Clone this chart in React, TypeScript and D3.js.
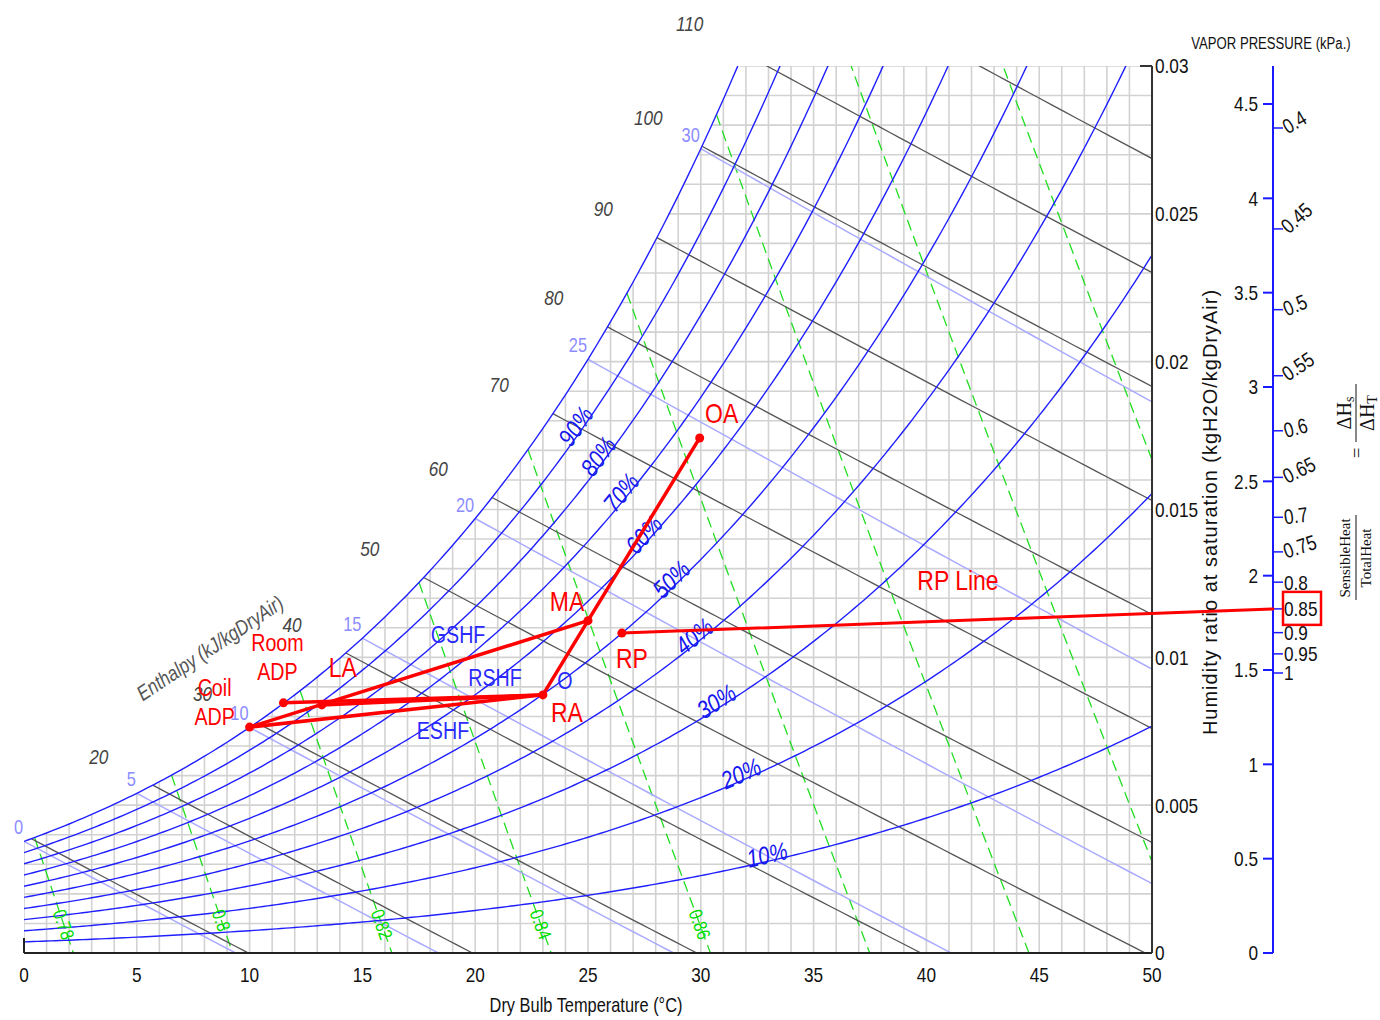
import React from 'react';
import * as d3 from 'd3';

// ---- chart values ----
const rhLevels = [0.1, 0.2, 0.3, 0.4, 0.5, 0.6, 0.7, 0.8, 0.9, 1.0];
const rhLabelLevels = [0.1, 0.2, 0.3, 0.4, 0.5, 0.6, 0.7, 0.8, 0.9];
const enthalpyLevels = [10, 20, 30, 40, 50, 60, 70, 80, 90, 100, 110, 120];
const enthalpyLabelLevels = [20, 30, 40, 50, 60, 70, 80, 90, 100, 110];
const wetBulbLevels = [0, 5, 10, 15, 20, 25, 30];
const volumeLevels = [0.78, 0.8, 0.82, 0.84, 0.86, 0.88, 0.9, 0.92, 0.94];
const volumeLabelLevels = [0.78, 0.8, 0.82, 0.84, 0.86];
const tempTicks = [0, 5, 10, 15, 20, 25, 30, 35, 40, 45, 50];
const humidityTicks = [0, 0.005, 0.01, 0.015, 0.02, 0.025, 0.03];
const vaporTicks = [0, 0.5, 1, 1.5, 2, 2.5, 3, 3.5, 4, 4.5];
const shfTicks = [0.4, 0.45, 0.5, 0.55, 0.6, 0.65, 0.7, 0.75, 0.8, 0.85, 0.9, 0.95, 1];

// process states
const stateNames = ['Coil ADP', 'Room ADP', 'LA', 'RA', 'MA', 'OA', 'RP'];
const stateT = [10.0, 11.5, 13.2, 23.0, 25.0, 29.95, 26.5];
const stateW = [0.00764, 0.00846, 0.00839, 0.00873, 0.01124, 0.01742, 0.01082];
const processFrom = ['Coil ADP', 'Coil ADP', 'Room ADP', 'LA', 'RA', 'MA'];
const processTo = ['MA', 'RA', 'RA', 'RA', 'MA', 'OA'];
const rpShf = 0.85;

// ---- psychrometrics ----
const P = 101.325;
const pws = (t: number) => {
  const T = t + 273.15;
  const ln = -5.8002206e3 / T + 1.3914993 - 4.8640239e-2 * T + 4.1764768e-5 * T * T
    - 1.4452093e-8 * T * T * T + 6.5459673 * Math.log(T);
  return Math.exp(ln) / 1000;
};
const wFromPw = (pw: number) => 0.621945 * pw / (P - pw);
const wSat = (t: number) => wFromPw(pws(t));
const wRH = (t: number, rh: number) => wFromPw(rh * pws(t));
const enthalpy = (t: number, w: number) => 1.006 * t + w * (2501 + 1.86 * t);
const wEnth = (t: number, h: number) => (h - 1.006 * t) / (2501 + 1.86 * t);
const wWetBulb = (t: number, twb: number) =>
  ((2501 - 2.326 * twb) * wSat(twb) - 1.006 * (t - twb)) / (2501 + 1.86 * t - 4.186 * twb);
const wVol = (t: number, v: number) => (v * P / (0.287042 * (t + 273.15)) - 1) / 1.6078;

function root(f: (t: number) => number, lo: number, hi: number) {
  let flo = f(lo);
  for (let i = 0; i < 60; i++) {
    const mid = (lo + hi) / 2;
    const fm = f(mid);
    if ((fm > 0) === (flo > 0)) { lo = mid; flo = fm; } else hi = mid;
  }
  return (lo + hi) / 2;
}

function sample(t0: number, t1: number, step: number, f: (t: number) => number) {
  const pts: [number, number][] = [];
  for (let t = t0; t < t1; t += step) pts.push([t, f(t)]);
  pts.push([t1, f(t1)]);
  return pts;
}

const SANS = '"Liberation Sans", Arial, sans-serif';

// narrow text: Liberation Sans squeezed horizontally (Arial Narrow look)
function NText(props: {
  x: number; y: number; r?: number; a?: string; size: number; fill?: string;
  italic?: boolean; dy?: string | number; sx?: number; children: any;
}) {
  const { x, y, r = 0, a = 'start', size, fill = '#111', italic = false, dy, sx = 0.82 } = props;
  return (
    <text transform={`translate(${x},${y}) rotate(${r}) scale(${sx},1)`} textAnchor={a as any}
      dy={dy} fontSize={size} fill={fill} fontStyle={italic ? 'italic' : undefined}
      fontFamily={SANS}>{props.children}</text>
  );
}

export default function App() {
  const width = 1380;
  const height = 1020;
  const x = d3.scaleLinear().domain([0, 50]).range([24, 1152]);
  const y = d3.scaleLinear().domain([0, 0.03]).range([953, 66]);
  const vp = d3.scaleLinear().domain([0, 4.5]).range([953, 104]);
  // SHF scale is linear in (1 - shf) / shf
  const shfScale = d3.scaleLinear().domain([0, 1.5]).range([673, 128]);
  const shfY = (s: number) => shfScale((1 - s) / s);
  const vpAxisX = 1273;

  const line = d3.line<[number, number]>().x(d => x(d[0])).y(d => y(d[1]));

  // region under saturation curve for the grid
  const satRegion: [number, number][] = [[0, 0],
    ...sample(0, 50, 0.25, t => Math.min(wSat(t), 0.03)), [50, 0]];

  const rhCurves = rhLevels.map(rh => ({ rh, pts: sample(0, 50, 0.2, t => wRH(t, rh)) }));

  const enthLines = enthalpyLevels.map(h => {
    const t0 = root(t => enthalpy(t, wSat(t)) - h, 0, 60);
    const t1 = Math.min(50, h / 1.006);
    return { h, t0, pts: sample(t0, t1, 0.5, t => wEnth(t, h)) };
  });

  const wbLines = wetBulbLevels.map(twb => {
    const t1 = Math.min(50, twb + (2501 - 2.326 * twb) * wSat(twb) / 1.006);
    return { twb, pts: sample(twb, t1, 0.5, t => wWetBulb(t, twb)) };
  });

  const volLines = volumeLevels.map(v => {
    const t0 = root(t => wVol(t, v) - wSat(t), 0, 60);
    const t1 = Math.min(50, v * P / 0.287042 - 273.15);
    return { v, pts: sample(t0, t1, 0.5, t => wVol(t, v)) };
  });

  const rhLabelT = [33.0, 31.9, 30.85, 29.9, 28.9, 27.7, 26.7, 25.7, 24.7];

  const st = (name: string) => {
    const i = stateNames.indexOf(name);
    return [x(stateT[i]), y(stateW[i])];
  };

  const stateLabels: { name: string; lines: string[]; dx: number; dy: number; size: number }[] = [
    { name: 'Coil ADP', lines: ['Coil', 'ADP'], dx: -35, dy: -31, size: 24 },
    { name: 'Room ADP', lines: ['Room', 'ADP'], dx: -6, dy: -52, size: 24 },
    { name: 'LA', lines: ['LA'], dx: 21, dy: -28, size: 28 },
    { name: 'RA', lines: ['RA'], dx: 24, dy: 27, size: 28 },
    { name: 'MA', lines: ['MA'], dx: -21, dy: -10, size: 28 },
    { name: 'OA', lines: ['OA'], dx: 22, dy: -15, size: 28 },
    { name: 'RP', lines: ['RP'], dx: 10, dy: 35, size: 28 },
  ];

  const notes = [
    { text: 'GSHF', t: 19.24, w: 0.01048, color: '#2a2aff', size: 24 },
    { text: 'RSHF', t: 20.88, w: 0.00903, color: '#2a2aff', size: 24 },
    { text: 'ESHF', t: 18.57, w: 0.00724, color: '#2a2aff', size: 24 },
    { text: 'O', t: 23.98, w: 0.00893, color: '#2a2aff', size: 24 },
    { text: 'RP Line', t: 41.4, w: 0.01228, color: '#ff0000', size: 28 },
  ];

  const rp = st('RP');
  const rpEndY = shfY(rpShf);

  const fmtShf = (s: number) => String(+s.toFixed(2));
  const shfAngle = (s: number) => {
    if (s > 0.8) return 0;
    const five = Math.round(s * 100) % 10 === 5;
    return -(0.8 - s) * 75 - (five ? 15 : 0);
  };

  return (
    <svg width={width} height={height}
      style={{ position: 'absolute', left: 0, top: 0, background: '#fff' }}>
      <defs>
        <clipPath id="plot">
          <rect x={x(0)} y={y(0.03)} width={x(50) - x(0)} height={y(0) - y(0.03)} />
        </clipPath>
        <clipPath id="sat">
          <path d={line(satRegion) + 'Z'} />
        </clipPath>
      </defs>

      {/* grid */}
      <g clipPath="url(#sat)" stroke="#d2d2d2" strokeWidth={1.6}>
        {d3.range(0, 51, 1).map(t => (
          <line key={'gv' + t} x1={x(t)} x2={x(t)} y1={y(0)} y2={y(0.03)} />
        ))}
        {d3.range(0, 31, 1).map(k => (
          <line key={'gh' + k} x1={x(0)} x2={x(50)} y1={y(k / 1000)} y2={y(k / 1000)} />
        ))}
      </g>

      <g clipPath="url(#plot)" fill="none">
        {volLines.map(l => (
          <path key={'v' + l.v} d={line(l.pts)!} stroke="#22dd22" strokeWidth={1.3} strokeDasharray="11 6" />
        ))}
        {wbLines.map(l => (
          <path key={'wb' + l.twb} d={line(l.pts)!} stroke="#aaaaff" strokeWidth={1.5} />
        ))}
        {enthLines.map(l => (
          <path key={'h' + l.h} d={line(l.pts)!} stroke="#555" strokeWidth={1.3} />
        ))}
        {rhCurves.map(c => (
          <path key={'rh' + c.rh} d={line(c.pts)!} stroke="#2020ff" strokeWidth={1.4} />
        ))}
      </g>

      {/* volume labels */}
      {volumeLabelLevels.map(v => {
        const wTop = 0.00145;
        const tTop = v * P / (0.287042 * (1 + 1.6078 * wTop)) - 273.15;
        const t0 = v * P / 0.287042 - 273.15;
        const px = x(tTop), py = y(wTop);
        const ang = Math.atan2(y(0) - py, x(t0) - px) * 180 / Math.PI;
        return (
          <NText key={'vl' + v} x={px} y={py} r={ang} dy="0.35em" fill="#00dd00" size={19}>
            {String(v)}
          </NText>
        );
      })}

      {/* wet bulb labels */}
      {wetBulbLevels.map(twb => (
        <NText key={'wbl' + twb} x={x(twb) - 1} y={y(wSat(twb)) - 7} a="end"
          fill="#8c8cff" size={20}>{twb}</NText>
      ))}

      {/* enthalpy labels */}
      {enthLines.filter(l => enthalpyLabelLevels.includes(l.h)).map(l => {
        const x0 = x(l.t0), y0 = y(wEnth(l.t0, l.h));
        const x1 = x(l.t0 + 1), y1 = y(wEnth(l.t0 + 1, l.h));
        const len = Math.hypot(x1 - x0, y1 - y0);
        const lx = x0 - 61 * (x1 - x0) / len;
        const ly = y0 - 61 * (y1 - y0) / len;
        return (
          <NText key={'hl' + l.h} x={lx} y={ly} dy="0.35em" a="middle" fill="#444"
            italic size={21}>{l.h}</NText>
        );
      })}
      <NText x={210} y={648} r={-33.6} a="middle" dy="0.35em" fill="#555" italic size={21}>
        Enthalpy (kJ/kgDryAir)
      </NText>

      {/* RH labels */}
      {rhLabelLevels.map((rh, i) => {
        const t = rhLabelT[i];
        const px = x(t), py = y(wRH(t, rh));
        const ang = Math.atan2(y(wRH(t + 0.2, rh)) - y(wRH(t - 0.2, rh)), x(t + 0.2) - x(t - 0.2)) * 180 / Math.PI;
        return (
          <NText key={'rhl' + rh} x={px} y={py} r={ang} dy={2} a="middle" fill="#1515ee"
            italic size={25}>{Math.round(rh * 100) + '%'}</NText>
        );
      })}

      {/* axes */}
      <line x1={x(0)} x2={x(50)} y1={y(0)} y2={y(0)} stroke="#222" strokeWidth={2} />
      <line x1={x(0)} x2={x(0)} y1={y(0) - 15} y2={y(0)} stroke="#222" strokeWidth={2} />
      <line x1={x(50)} x2={x(50)} y1={y(0.03)} y2={y(0)} stroke="#333" strokeWidth={2} />
      <line x1={x(50) - 12} x2={x(50)} y1={y(0.03)} y2={y(0.03)} stroke="#333" strokeWidth={2} />
      {tempTicks.map(t => (
        <NText key={'xt' + t} x={x(t)} y={982} a="middle" size={21}>{t}</NText>
      ))}
      <NText x={586} y={1012} a="middle" size={20}>Dry Bulb Temperature (°C)</NText>
      {humidityTicks.map(w => (
        <NText key={'yt' + w} x={x(50) + 3} y={y(w)} dy="0.35em" size={21}>{String(w)}</NText>
      ))}
      <text transform="translate(1217,512) rotate(-90)" textAnchor="middle" fontSize={20}
        letterSpacing={1} fontFamily={SANS} fill="#111">
        Humidity ratio at saturation (kgH2O/kgDryAir)
      </text>

      {/* vapor pressure / SHF axis */}
      <line x1={vpAxisX} x2={vpAxisX} y1={y(0.03)} y2={y(0)} stroke="#1a1aff" strokeWidth={2} />
      {vaporTicks.map(p => (
        <g key={'vp' + p}>
          <line x1={vpAxisX - 10} x2={vpAxisX} y1={vp(p)} y2={vp(p)} stroke="#1a1aff" strokeWidth={2} />
          <NText x={vpAxisX - 15} y={vp(p)} dy="0.35em" a="end" size={21}>{p}</NText>
        </g>
      ))}
      <NText x={1271} y={49} a="middle" size={16}>VAPOR PRESSURE (kPa.)</NText>
      {shfTicks.map(s => (
        <g key={'shf' + s}>
          <line x1={vpAxisX} x2={vpAxisX + 10} y1={shfY(s)} y2={shfY(s)} stroke="#1a1aff" strokeWidth={1.5} />
          <NText x={vpAxisX + 11} y={shfY(s)} r={shfAngle(s)} dy="0.35em" size={21}>{fmtShf(s)}</NText>
        </g>
      ))}
      <rect x={vpAxisX + 10} y={rpEndY - 17} width={38} height={33} fill="none"
        stroke="#ff0000" strokeWidth={2.5} />

      {/* SHF formula */}
      <g transform="translate(1357,490) rotate(-90)" fontFamily='"Liberation Serif", "Times New Roman", serif'
        fontSize={15} fill="#111">
        <text x={-68} y={-7} textAnchor="middle">SensibleHeat</text>
        <line x1={-110} x2={-25} y1={-1} y2={-1} stroke="#111" strokeWidth={1} />
        <text x={-68} y={14} textAnchor="middle">TotalHeat</text>
        <text x={37} y={6} textAnchor="middle" fontSize={19}>=</text>
        <text x={77} y={-6} textAnchor="middle" fontSize={20}>ΔH<tspan fontSize={14} dy={3}>s</tspan></text>
        <line x1={48} x2={106} y1={-1} y2={-1} stroke="#111" strokeWidth={1} />
        <text x={77} y={17} textAnchor="middle" fontSize={20}>ΔH<tspan fontSize={14} dy={3}>T</tspan></text>
      </g>

      {/* process lines */}
      <g stroke="#ff0000" strokeWidth={3.5} strokeLinecap="round">
        {processFrom.map((a, i) => {
          const p0 = st(a), p1 = st(processTo[i]);
          return <line key={'pl' + i} x1={p0[0]} y1={p0[1]} x2={p1[0]} y2={p1[1]} />;
        })}
        <line x1={rp[0]} y1={rp[1]} x2={vpAxisX} y2={rpEndY} strokeWidth={3} />
      </g>
      {stateNames.map((n, i) => (
        <circle key={'pt' + n} cx={x(stateT[i])} cy={y(stateW[i])} r={4.5} fill="#ff0000" />
      ))}
      {stateLabels.map(l => {
        const p = st(l.name);
        return (
          <NText key={'sl' + l.name} x={p[0] + l.dx} y={p[1] + l.dy} a="middle"
            size={l.size} fill="#ff0000">
            {l.lines.map((s, k) => (
              <tspan key={k} x={0} dy={k === 0 ? 0 : l.size * 1.2}>{s}</tspan>
            ))}
          </NText>
        );
      })}
      {notes.map(nt => (
        <NText key={'nt' + nt.text} x={x(nt.t)} y={y(nt.w)} a="middle"
          size={nt.size} fill={nt.color}>{nt.text}</NText>
      ))}
    </svg>
  );
}
